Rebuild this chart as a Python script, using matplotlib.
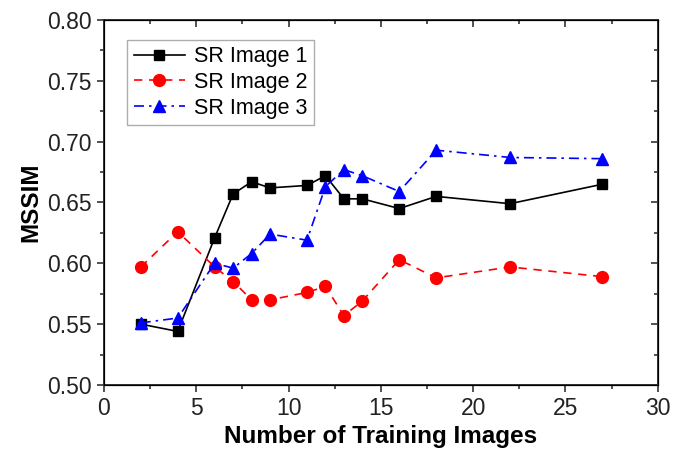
import numpy as np
import matplotlib.pyplot as plt
from matplotlib.ticker import MultipleLocator

plt.rcParams['font.family'] = ['Liberation Sans', 'DejaVu Sans']

# training image counts
n_train = [2, 4, 6, 7, 8, 9, 11, 12, 13, 14, 16, 18, 22, 27]

# MSSIM per SR image
sr1 = [0.550, 0.544, 0.621, 0.657, 0.667, 0.662, 0.664, 0.672, 0.653, 0.653, 0.645, 0.655, 0.649, 0.665]
sr2 = [0.597, 0.626, 0.597, 0.585, 0.570, 0.570, 0.576, 0.581, 0.557, 0.569, 0.603, 0.588, 0.597, 0.589]
sr3 = [0.551, 0.555, 0.600, 0.596, 0.608, 0.624, 0.619, 0.663, 0.677, 0.672, 0.659, 0.693, 0.687, 0.686]

fig = plt.figure(figsize=(6.88, 4.55), dpi=100)
ax = fig.add_axes([0.151, 0.154, 0.805, 0.802])

ax.plot(n_train, sr1, color="black", linestyle="-", marker="s", markersize=7.5, lw=1.2, label="SR Image 1")
ax.plot(n_train, sr2, color="red", linestyle=(0, (5, 4)), marker="o", markersize=8.5, lw=1.2, label="SR Image 2")
ax.plot(n_train, sr3, color="blue", linestyle=(0, (6, 3, 1.5, 3)), marker="^", markersize=8.5, lw=1.2, label="SR Image 3")

ax.set_xlim(0, 30)
ax.set_ylim(0.50, 0.80)
ax.xaxis.set_major_locator(MultipleLocator(5))
ax.xaxis.set_minor_locator(MultipleLocator(2.5))
ax.yaxis.set_major_locator(MultipleLocator(0.05))
ax.yaxis.set_minor_locator(MultipleLocator(0.025))
ax.yaxis.set_major_formatter(plt.FormatStrFormatter("%.2f"))

axcol = "#333333"
ax.tick_params(which="both", direction="out", labelsize=16.5, width=1.2, color=axcol, labelcolor="#222222")
ax.tick_params(which="major", length=5)
ax.tick_params(which="minor", length=3)
for spine in ax.spines.values():
    spine.set_linewidth(1.4)
    spine.set_color(axcol)

# mirrored inward ticks on top and right
axt = ax.twiny()
axt.set_xlim(ax.get_xlim())
axt.xaxis.set_major_locator(MultipleLocator(5))
axt.xaxis.set_minor_locator(MultipleLocator(2.5))
axt.tick_params(which="both", direction="in", labeltop=False, width=1.2, color=axcol)
axt.tick_params(which="major", length=5)
axt.tick_params(which="minor", length=3)
axr = ax.twinx()
axr.set_ylim(ax.get_ylim())
axr.yaxis.set_major_locator(MultipleLocator(0.05))
axr.yaxis.set_minor_locator(MultipleLocator(0.025))
axr.tick_params(which="both", direction="in", labelright=False, width=1.2, color=axcol)
axr.tick_params(which="major", length=5)
axr.tick_params(which="minor", length=3)

ax.set_xlabel("Number of Training Images", fontsize=17.5, fontweight="bold", labelpad=4)
ax.set_ylabel("MSSIM", fontsize=17.5, fontweight="bold", labelpad=4)

ax.legend(loc="upper left", bbox_to_anchor=(0.042, 0.946), borderaxespad=0, fontsize=15.5, frameon=True,
          fancybox=False, edgecolor="#999999", handlelength=2.4, borderpad=0.3,
          labelspacing=0.22, handletextpad=0.4)

fig.savefig("out.png", dpi=100)
